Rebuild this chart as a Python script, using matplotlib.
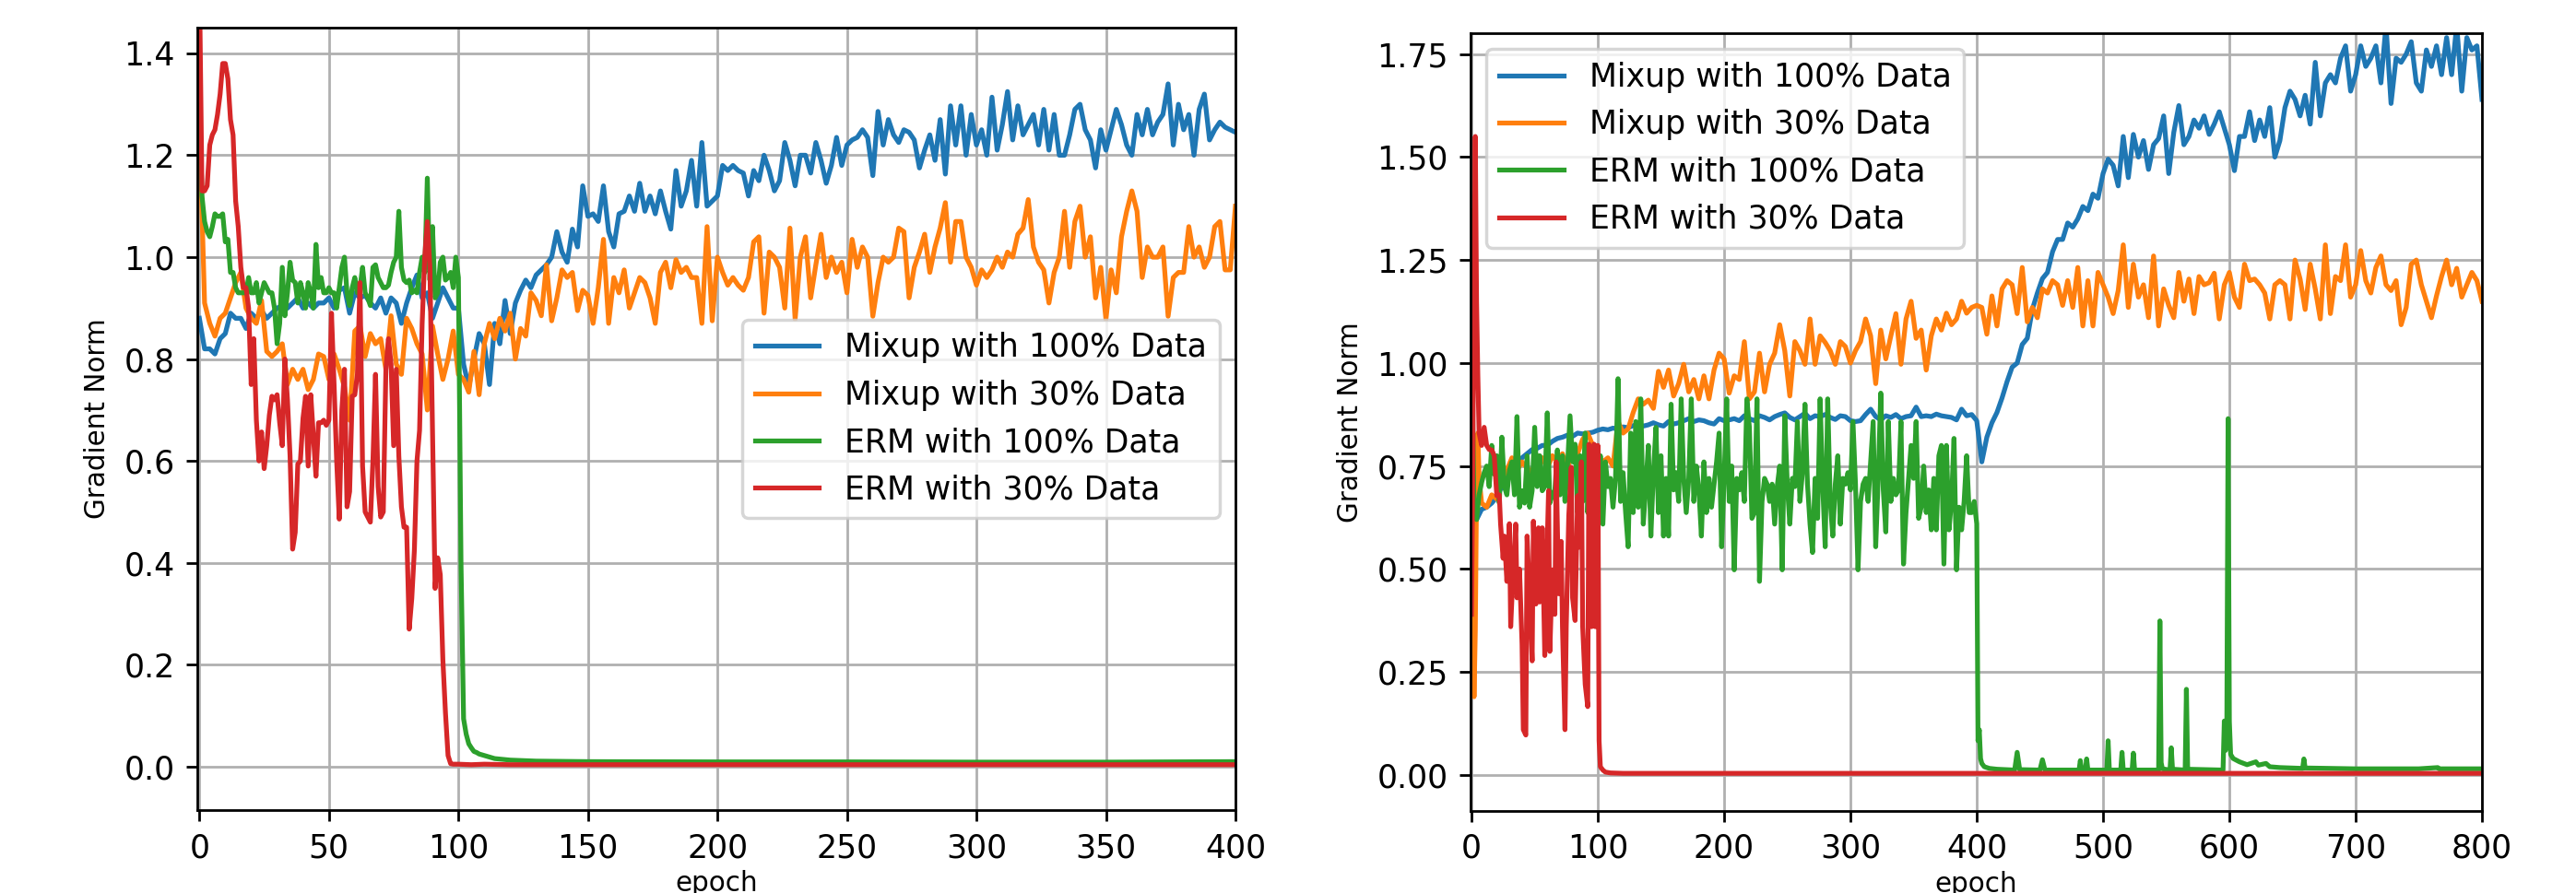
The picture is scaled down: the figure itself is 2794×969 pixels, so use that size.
import matplotlib
matplotlib.use('Agg')
import matplotlib.pyplot as plt

# ---------------- left panel (400 epochs) ----------------
ep_l = list(range(0, 401, 2))

mixup100_l = [0.88, 0.82, 0.82, 0.81, 0.84, 0.85, 0.89, 0.88, 0.88, 0.86,
              0.89, 0.88, 0.895, 0.88, 0.89, 0.90, 0.905, 0.90, 0.91, 0.92,
              0.90, 0.91, 0.90, 0.91, 0.91, 0.92, 0.90, 0.935, 0.94, 0.89,
              0.93, 0.92, 0.925, 0.91, 0.90, 0.92, 0.89, 0.92, 0.91, 0.87,
              0.91, 0.94, 0.965, 0.92, 0.93, 0.88, 0.91, 0.94, 0.92, 0.90,
              0.90, 0.79, 0.745, 0.80, 0.85, 0.83, 0.75, 0.87, 0.83, 0.915,
              0.85, 0.91, 0.935, 0.955, 0.94, 0.965, 0.975, 0.985, 1.00, 1.05,
              1.01, 0.99, 1.055, 1.02, 1.14, 1.08, 1.085, 1.07, 1.14, 1.05,
              1.02, 1.085, 1.09, 1.12, 1.09, 1.145, 1.09, 1.12, 1.085, 1.13,
              1.09, 1.055, 1.17, 1.10, 1.13, 1.19, 1.10, 1.225, 1.10, 1.11,
              1.12, 1.18, 1.17, 1.18, 1.17, 1.165, 1.12, 1.17, 1.15, 1.20,
              1.17, 1.13, 1.15, 1.225, 1.19, 1.14, 1.20, 1.20, 1.165, 1.225,
              1.19, 1.145, 1.18, 1.235, 1.18, 1.22, 1.23, 1.235, 1.25, 1.235,
              1.16, 1.286, 1.22, 1.27, 1.24, 1.225, 1.25, 1.245, 1.23, 1.175,
              1.21, 1.24, 1.19, 1.27, 1.163, 1.297, 1.22, 1.297, 1.20, 1.28,
              1.22, 1.25, 1.20, 1.314, 1.21, 1.26, 1.325, 1.23, 1.297, 1.24,
              1.26, 1.28, 1.22, 1.29, 1.21, 1.28, 1.20, 1.20, 1.24, 1.29,
              1.30, 1.25, 1.23, 1.175, 1.25, 1.21, 1.25, 1.29, 1.26, 1.22,
              1.20, 1.28, 1.24, 1.29, 1.24, 1.265, 1.28, 1.34, 1.22, 1.30,
              1.25, 1.28, 1.20, 1.29, 1.32, 1.23, 1.25, 1.265, 1.255, 1.25,
              1.245]

mixup30_l = [1.27, 0.91, 0.87, 0.845, 0.88, 0.89, 0.92, 0.95, 0.97, 0.90,
             0.88, 0.87, 0.915, 0.815, 0.805, 0.815, 0.83, 0.75, 0.78, 0.76,
             0.78, 0.74, 0.76, 0.81, 0.805, 0.76, 0.81, 0.78, 0.745, 0.68,
             0.855, 0.865, 0.805, 0.85, 0.83, 0.84, 0.78, 0.885, 0.79, 0.77,
             0.88, 0.86, 0.83, 0.81, 0.70, 0.865, 0.81, 0.76, 0.80, 0.855,
             0.77, 0.76, 0.735, 0.815, 0.73, 0.83, 0.87, 0.84, 0.88, 0.855,
             0.89, 0.80, 0.86, 0.845, 0.93, 0.915, 0.885, 0.985, 0.875, 0.92,
             0.975, 0.96, 0.97, 0.895, 0.935, 0.925, 0.87, 0.94, 1.035, 0.87,
             0.96, 0.93, 0.975, 0.90, 0.93, 0.96, 0.95, 0.92, 0.87, 0.97,
             0.99, 0.94, 0.995, 0.97, 0.98, 0.96, 0.96, 0.87, 1.06, 0.875,
             1.0, 0.97, 0.945, 0.96, 0.945, 0.935, 0.96, 1.03, 1.04, 0.89,
             1.01, 1.0, 0.98, 0.90, 1.057, 0.878, 1.0, 1.04, 0.92, 0.985,
             1.045, 0.96, 1.0, 0.97, 0.99, 0.93, 1.035, 0.98, 1.02, 1.0,
             0.884, 0.95, 1.0, 0.99, 1.0, 1.057, 1.05, 0.92, 0.98, 1.01,
             1.045, 0.97, 1.02, 1.057, 1.107, 0.99, 1.07, 1.07, 1.0, 0.98,
             0.945, 0.975, 0.96, 0.975, 1.0, 0.98, 1.01, 1.0, 1.045, 1.057,
             1.113, 1.02, 0.99, 0.975, 0.91, 0.97, 1.0, 1.09, 0.98, 1.07,
             1.10, 1.0, 1.04, 0.92, 0.98, 0.878, 0.975, 0.93, 1.04, 1.09,
             1.13, 1.09, 0.96, 1.02, 1.0, 1.0, 1.02, 0.884, 0.96, 0.97,
             0.97, 1.06, 1.0, 1.02, 0.98, 1.0, 1.06, 1.07, 0.975, 0.975,
             1.10]

erm100_l_ep = list(range(0, 109)) + [110, 114, 120, 130, 150, 200, 250, 300, 350, 400]
erm100_l = [1.30, 1.12, 1.07, 1.05, 1.04, 1.06, 1.085, 1.08, 1.08, 1.085,
            1.03, 1.035, 0.97, 0.97, 0.94, 0.93, 0.93, 0.93, 0.93, 0.96,
            0.93, 0.93, 0.95, 0.91, 0.93, 0.95, 0.94, 0.93, 0.93, 0.90,
            0.83, 0.87, 0.98, 0.885, 0.93, 0.99, 0.955, 0.95, 0.91, 0.95,
            0.93, 0.90, 0.95, 0.93, 0.90, 1.025, 0.94, 0.96, 0.93, 0.93,
            0.94, 0.93, 0.93, 0.90, 0.94, 0.98, 1.0, 0.93, 0.905, 0.94,
            0.96, 0.93, 0.94, 0.98, 0.93, 0.92, 0.905, 0.98, 0.985, 0.96,
            0.95, 0.94, 0.94, 0.945, 0.97, 0.99, 1.0, 1.09, 0.98, 0.955,
            0.95, 0.955, 0.93, 0.935, 0.93, 0.97, 1.0, 0.97, 1.155, 0.955,
            1.06, 0.92, 0.93, 0.99, 1.0, 0.955, 0.96, 0.97, 0.94, 1.0,
            0.96, 0.40, 0.094, 0.064, 0.045, 0.037, 0.03, 0.028, 0.025,
            0.022, 0.016, 0.013, 0.011, 0.010, 0.0095, 0.0095, 0.009, 0.009, 0.01]

erm30_l_ep = list(range(0, 101)) + [105, 110, 120, 150, 200, 250, 300, 350, 400]
erm30_l = [1.55, 1.13, 1.13, 1.14, 1.22, 1.24, 1.25, 1.28, 1.32, 1.38,
           1.38, 1.35, 1.27, 1.24, 1.11, 1.06, 0.98, 0.94, 0.94, 0.90,
           0.75, 0.84, 0.68, 0.60, 0.657, 0.585, 0.63, 0.69, 0.727, 0.72,
           0.73, 0.675, 0.63, 0.80, 0.72, 0.61, 0.427, 0.46, 0.594, 0.60,
           0.684, 0.727, 0.59, 0.73, 0.65, 0.57, 0.675, 0.675, 0.68, 0.67,
           0.68, 0.89, 0.75, 0.60, 0.486, 0.70, 0.78, 0.51, 0.54, 0.727,
           0.73, 0.77, 0.95, 0.59, 0.50, 0.49, 0.48, 0.60, 0.77, 0.55,
           0.49, 0.50, 0.78, 0.84, 0.79, 0.63, 0.78, 0.61, 0.51, 0.47,
           0.47, 0.27, 0.33, 0.425, 0.60, 0.66, 0.87, 1.0, 1.07, 0.98,
           0.66, 0.35, 0.41, 0.377, 0.21, 0.106, 0.022, 0.006, 0.005, 0.005,
           0.005,
           0.004, 0.005, 0.004, 0.004, 0.004, 0.004, 0.004, 0.004, 0.004]

# ---------------- right panel (800 epochs) ----------------
ep_r = list(range(0, 801, 4))

mixup100_r = [0.60, 0.62, 0.645, 0.65, 0.66, 0.675, 0.70, 0.727, 0.74, 0.75,
              0.77, 0.78, 0.79, 0.793, 0.80, 0.80, 0.81, 0.817, 0.82, 0.825,
              0.822, 0.83, 0.828, 0.83, 0.832, 0.837, 0.84, 0.838, 0.842, 0.84,
              0.845, 0.843, 0.848, 0.851, 0.847, 0.85, 0.855, 0.85, 0.847, 0.858,
              0.852, 0.855, 0.86, 0.865, 0.858, 0.862, 0.86, 0.855, 0.852, 0.865,
              0.86, 0.862, 0.865, 0.86, 0.872, 0.865, 0.86, 0.872, 0.868, 0.862,
              0.87, 0.875, 0.879, 0.868, 0.862, 0.87, 0.878, 0.865, 0.872, 0.87,
              0.875, 0.868, 0.863, 0.872, 0.87, 0.86, 0.858, 0.86, 0.875, 0.888,
              0.87, 0.862, 0.872, 0.868, 0.875, 0.865, 0.87, 0.872, 0.893, 0.87,
              0.872, 0.87, 0.876, 0.872, 0.87, 0.868, 0.862, 0.888, 0.872, 0.875,
              0.86, 0.76, 0.82, 0.855, 0.88, 0.915, 0.955, 0.99, 1.0, 1.045,
              1.06, 1.13, 1.17, 1.205, 1.22, 1.27, 1.30, 1.30, 1.34, 1.33,
              1.35, 1.38, 1.37, 1.41, 1.40, 1.46, 1.495, 1.48, 1.43, 1.55,
              1.45, 1.555, 1.50, 1.54, 1.47, 1.53, 1.545, 1.60, 1.46, 1.56,
              1.625, 1.53, 1.55, 1.59, 1.57, 1.60, 1.555, 1.58, 1.61, 1.57,
              1.53, 1.467, 1.55, 1.55, 1.61, 1.54, 1.59, 1.55, 1.62, 1.50,
              1.54, 1.62, 1.66, 1.64, 1.60, 1.65, 1.58, 1.73, 1.60, 1.68,
              1.70, 1.68, 1.74, 1.77, 1.66, 1.70, 1.77, 1.72, 1.74, 1.77,
              1.68, 1.82, 1.63, 1.74, 1.73, 1.75, 1.78, 1.68, 1.66, 1.76,
              1.72, 1.77, 1.70, 1.79, 1.70, 1.82, 1.66, 1.79, 1.76, 1.77,
              1.64]

mixup30_r_ep = [0, 1, 2, 3, 4, 5, 6] + list(range(8, 801, 4))
mixup30_r = [1.37, 0.45, 0.19, 0.35, 0.70, 0.83, 0.72,
             0.66, 0.65, 0.68, 0.67, 0.72, 0.74, 0.77, 0.74, 0.76, 0.745,
             0.735, 0.775, 0.77, 0.745, 0.775, 0.76, 0.78, 0.74, 0.80, 0.78,
             0.815, 0.83, 0.80, 0.775, 0.76, 0.77, 0.75, 0.858, 0.83, 0.84,
             0.88, 0.913, 0.90, 0.91, 0.89, 0.98, 0.941, 0.983, 0.92, 0.95,
             0.997, 0.93, 0.96, 0.913, 0.969, 0.913, 0.983, 1.024, 1.01, 0.927,
             0.969, 0.96, 1.052, 0.913, 0.93, 1.024, 0.93, 0.997, 1.024, 1.093,
             1.03, 0.92, 1.052, 1.03, 0.997, 1.107, 0.997, 1.066, 1.05, 1.03,
             0.997, 1.052, 1.04, 1.00, 1.03, 1.052, 1.107, 1.066, 0.95, 1.08,
             1.01, 1.066, 1.12, 0.997, 1.107, 1.15, 1.06, 1.08, 0.983, 1.066,
             1.107, 1.08, 1.121, 1.093, 1.107, 1.15, 1.121, 1.135, 1.14, 1.135,
             1.07, 1.163, 1.09, 1.18, 1.20, 1.19, 1.12, 1.232, 1.10, 1.135,
             1.11, 1.18, 1.17, 1.20, 1.19, 1.14, 1.20, 1.135, 1.232, 1.09,
             1.20, 1.09, 1.22, 1.19, 1.16, 1.12, 1.176, 1.287, 1.135, 1.24,
             1.16, 1.19, 1.11, 1.26, 1.09, 1.18, 1.14, 1.11, 1.22, 1.15,
             1.204, 1.12, 1.21, 1.19, 1.195, 1.218, 1.107, 1.19, 1.22, 1.16,
             1.135, 1.24, 1.20, 1.204, 1.19, 1.17, 1.107, 1.19, 1.20, 1.19,
             1.107, 1.25, 1.204, 1.13, 1.24, 1.18, 1.107, 1.287, 1.12, 1.21,
             1.20, 1.287, 1.16, 1.19, 1.273, 1.20, 1.17, 1.232, 1.26, 1.19,
             1.176, 1.20, 1.093, 1.135, 1.24, 1.25, 1.19, 1.15, 1.11, 1.163,
             1.21, 1.25, 1.19, 1.23, 1.16, 1.19, 1.22, 1.20, 1.15]

erm100_r_ep = list(range(0, 401, 2)) + [
    401, 402, 403, 404, 406, 410, 416, 430, 432, 434, 450, 452, 454,
    481, 482, 483, 486, 487, 488, 503, 504, 505, 514, 515, 516, 523, 524, 525,
    544, 545, 546, 547, 553, 554, 555, 565, 566, 567, 595, 596, 597, 598, 599,
    600, 601, 603, 608, 614, 621, 623, 629, 632, 640, 658, 659, 660, 700, 750,
    765, 766, 800]
erm100_r = [1.08, 0.64, 0.62, 0.68, 0.71, 0.734, 0.75, 0.70, 0.80, 0.73,
            0.775, 0.66, 0.82, 0.70, 0.68, 0.74, 0.76, 0.68, 0.87, 0.65,
            0.69, 0.66, 0.775, 0.65, 0.69, 0.844, 0.70, 0.775, 0.69, 0.70,
            0.879, 0.66, 0.68, 0.692, 0.789, 0.68, 0.775, 0.664, 0.75, 0.872,
            0.76, 0.803, 0.637, 0.775, 0.664, 0.83, 0.637, 0.75, 0.70, 0.76,
            0.637, 0.775, 0.609, 0.76, 0.70, 0.72, 0.65, 0.72, 0.962, 0.664,
            0.734, 0.637, 0.554, 0.83, 0.637, 0.858, 0.65, 0.913, 0.609, 0.70,
            0.80, 0.58, 0.734, 0.844, 0.637, 0.775, 0.58, 0.72, 0.58, 0.90,
            0.692, 0.734, 0.664, 0.913, 0.72, 0.637, 0.72, 0.913, 0.664, 0.75,
            0.692, 0.58, 0.76, 0.637, 0.72, 0.65, 0.706, 0.76, 0.83, 0.554,
            0.72, 0.913, 0.664, 0.75, 0.498, 0.72, 0.692, 0.734, 0.664, 0.913,
            0.844, 0.623, 0.637, 0.913, 0.47, 0.664, 0.72, 0.706, 0.664, 0.706,
            0.609, 0.70, 0.75, 0.498, 0.872, 0.706, 0.609, 0.72, 0.70, 0.858,
            0.664, 0.734, 0.90, 0.706, 0.609, 0.54, 0.72, 0.623, 0.913, 0.706,
            0.554, 0.913, 0.664, 0.58, 0.706, 0.775, 0.609, 0.72, 0.706, 0.734,
            0.692, 0.858, 0.706, 0.498, 0.664, 0.706, 0.72, 0.664, 0.76, 0.858,
            0.554, 0.72, 0.927, 0.692, 0.59, 0.858, 0.664, 0.72, 0.68, 0.692,
            0.858, 0.512, 0.637, 0.72, 0.80, 0.72, 0.858, 0.623, 0.65, 0.75,
            0.637, 0.692, 0.595, 0.72, 0.595, 0.775, 0.80, 0.512, 0.80, 0.595,
            0.664, 0.817, 0.498, 0.65, 0.595, 0.664, 0.775, 0.637, 0.637, 0.664,
            0.61,
            0.083, 0.11, 0.04, 0.028, 0.02, 0.016, 0.014, 0.012, 0.055, 0.013, 0.012, 0.037, 0.012,
            0.012, 0.035, 0.012, 0.012, 0.039, 0.012, 0.012, 0.083, 0.012, 0.012, 0.055, 0.012,
            0.012, 0.053, 0.012, 0.012, 0.374, 0.03, 0.015, 0.012, 0.066, 0.014, 0.012, 0.208,
            0.014, 0.012, 0.131, 0.06, 0.12, 0.865, 0.13, 0.05, 0.04, 0.032, 0.025, 0.032,
            0.024, 0.028, 0.02, 0.018, 0.016, 0.039, 0.017, 0.015, 0.015, 0.018, 0.015, 0.015]

erm30_r_ep = [0, 1, 2, 3, 4, 5, 6, 8, 10, 12, 14, 16, 18, 20, 22, 23, 25, 26, 28, 30,
              31, 33, 35, 36, 38, 40, 41, 43, 44, 46, 48, 49, 51, 53, 54, 56, 58, 59,
              61, 62, 64, 66, 67, 69, 71, 72, 74, 75, 77, 79, 80, 82, 84, 85, 87, 88,
              90, 92, 93, 95, 97, 98, 100, 101, 102, 104, 106, 110, 120, 150, 200,
              300, 400, 500, 600, 700, 800]
erm30_r = [0.39, 0.75, 1.20, 1.55, 1.15, 0.97, 0.83, 0.80, 0.844, 0.80, 0.79, 0.789,
           0.775, 0.678, 0.68, 0.609, 0.526, 0.58, 0.47, 0.61, 0.36, 0.498, 0.609,
           0.43, 0.50, 0.318, 0.11, 0.097, 0.58, 0.43, 0.277, 0.616, 0.415, 0.60,
           0.42, 0.60, 0.29, 0.45, 0.69, 0.30, 0.498, 0.39, 0.76, 0.44, 0.567, 0.36,
           0.11, 0.36, 0.63, 0.747, 0.43, 0.375, 0.678, 0.553, 0.76, 0.36, 0.22,
           0.166, 0.803, 0.36, 0.803, 0.36, 0.80, 0.083, 0.02, 0.012, 0.007, 0.005,
           0.004, 0.004, 0.004, 0.004, 0.004, 0.004, 0.004, 0.004, 0.004]

labels = ['Mixup with 100% Data', 'Mixup with 30% Data',
          'ERM with 100% Data', 'ERM with 30% Data']

fig = plt.figure(figsize=(2794 / 250, 969 / 250), dpi=250)

#left plot
ax1 = fig.add_axes([0.0766, 0.0929, 0.4030, 0.8761])
ax1.plot(ep_l, mixup100_l, label=labels[0])
ax1.plot(ep_l, mixup30_l, label=labels[1])
ax1.plot(erm100_l_ep, erm100_l, label=labels[2])
ax1.plot(erm30_l_ep, erm30_l, label=labels[3])
ax1.set_xlim(-0.8, 400)
ax1.set_ylim(-0.085, 1.4503)
ax1.set_xlabel('epoch', fontsize=8.5, labelpad=2)
ax1.set_ylabel('Gradient Norm', fontsize=8.5)
ax1.grid()
ax1.legend(loc='center right')

#right plot
ax2 = fig.add_axes([0.5709, 0.0922, 0.3926, 0.8710])
ax2.plot(ep_r, mixup100_r, label=labels[0])
ax2.plot(mixup30_r_ep, mixup30_r, label=labels[1])
ax2.plot(erm100_r_ep, erm100_r, label=labels[2])
ax2.plot(erm30_r_ep, erm30_r, label=labels[3])
ax2.set_xlim(-0.7, 800)
ax2.set_ylim(-0.0866, 1.8015)
ax2.set_xlabel('epoch', fontsize=8.5, labelpad=2)
ax2.set_ylabel('Gradient Norm', fontsize=8.5)
ax2.grid()
ax2.legend(loc='upper left')

fig.savefig('out.png', dpi=250)
